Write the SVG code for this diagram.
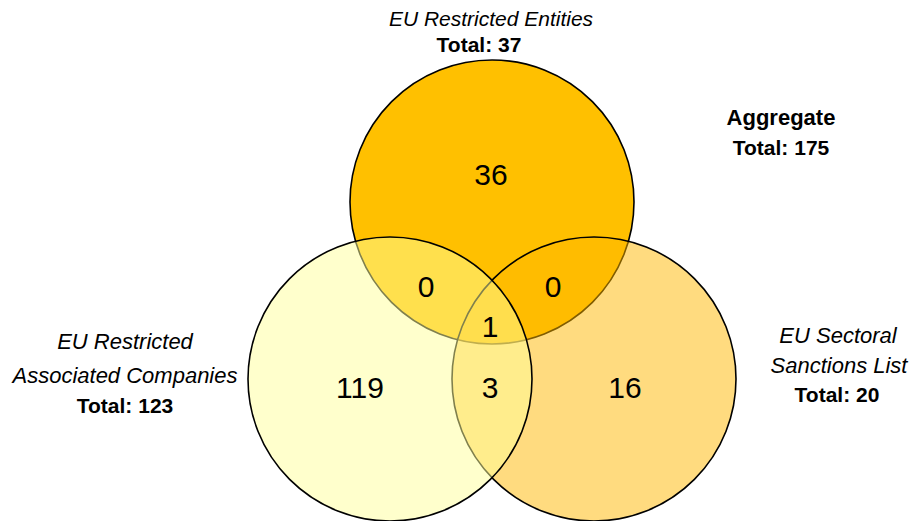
<svg xmlns="http://www.w3.org/2000/svg" width="912" height="521" viewBox="0 0 912 521">
<style>
.c{stroke:#000;stroke-width:1.6}
.n{font-family:"Liberation Sans",Arial,sans-serif;font-size:30px;fill:#000;text-anchor:middle}
.l{font-family:"Liberation Sans",Arial,sans-serif;font-size:21px;font-style:italic;fill:#000;text-anchor:middle}
.t{font-family:"Liberation Sans",Arial,sans-serif;font-size:21px;font-weight:bold;fill:#000;text-anchor:middle}
</style>
<rect width="912" height="521" fill="#fff"/>
<g id="set-entities">
<circle class="c" cx="492" cy="202" r="142" fill="#FFC000"/>
</g>
<g id="set-sectoral">
<circle class="c" cx="594" cy="379" r="142" fill="#FFB700" fill-opacity="0.5"/>
</g>
<g id="set-associated">
<circle class="c" cx="390" cy="379" r="142" fill="#FFFF99" fill-opacity="0.5"/>
</g>
<g id="counts">
<text class="n" x="491" y="185">36</text>
<text class="n" x="426" y="297">0</text>
<text class="n" x="553" y="297">0</text>
<text class="n" x="490" y="337">1</text>
<text class="n" x="360" y="398">119</text>
<text class="n" x="490" y="398">3</text>
<text class="n" x="625" y="398">16</text>
</g>
<g id="label-entities">
<text class="l" x="491" y="26">EU Restricted Entities</text>
<text class="t" x="479" y="52">Total: 37</text>
</g>
<g id="label-aggregate">
<text class="t" x="781" y="125" style="font-size:22px">Aggregate</text>
<text class="t" x="781" y="155">Total: 175</text>
</g>
<g id="label-associated">
<text class="l" x="125" y="349" style="font-size:22px">EU Restricted</text>
<text class="l" x="125" y="383" style="font-size:22px">Associated Companies</text>
<text class="t" x="125" y="413">Total: 123</text>
</g>
<g id="label-sectoral">
<text class="l" x="838" y="343" style="font-size:22px">EU Sectoral</text>
<text class="l" x="839" y="373" style="font-size:22px">Sanctions List</text>
<text class="t" x="837" y="402">Total: 20</text>
</g>
</svg>
